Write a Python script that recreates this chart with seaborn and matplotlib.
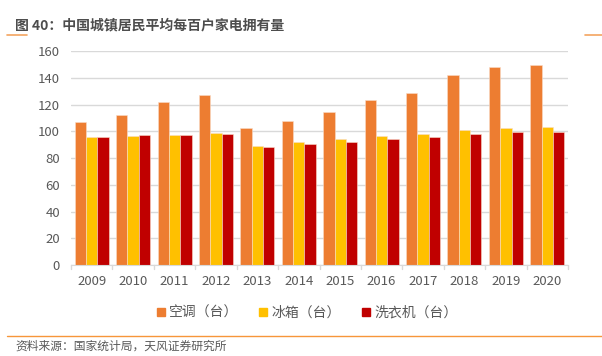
import pandas as pd
import matplotlib
matplotlib.use("Agg")
import matplotlib.pyplot as plt
import seaborn as sns
from matplotlib.lines import Line2D

years = ["2009", "2010", "2011", "2012", "2013", "2014", "2015", "2016", "2017", "2018", "2019", "2020"]
ac = [106.8, 112.1, 122.0, 126.8, 102.2, 107.4, 114.6, 123.7, 128.6, 142.2, 148.3, 149.6]
fridge = [95.4, 96.6, 97.2, 98.5, 89.2, 91.7, 94.0, 96.4, 98.0, 100.9, 102.5, 103.1]
washer = [96.0, 96.9, 97.1, 98.0, 88.4, 90.7, 92.3, 94.2, 95.7, 97.7, 99.2, 99.7]
series = ["空调（台）", "冰箱（台）", "洗衣机（台）"]
colors = ["#ED7D31", "#FFC000", "#C00000"]

df = pd.DataFrame({
    "year": years * 3,
    "value": ac + fridge + washer,
    "item": [series[0]] * 12 + [series[1]] * 12 + [series[2]] * 12,
})

sns.set_style("white")
plt.rcParams["font.family"] = ["Noto Sans CJK SC", "DejaVu Sans"]

fig = plt.figure(figsize=(6.02, 3.56), dpi=100)
ax = fig.add_axes([0.118, 0.2556, 0.8255, 0.601])

sns.barplot(data=df, x="year", y="value", hue="item", palette=colors, saturation=1,
            width=0.82, edgecolor="#F9DCC8", linewidth=0.4, ax=ax, legend=False)

ax.set_ylim(0, 160)
ax.set_yticks(range(0, 161, 20))
ax.set_xlim(-0.5, 11.5)
ax.yaxis.grid(True, color="#D9D9D9", linewidth=1)
ax.set_axisbelow(True)
ax.set_xlabel("")
ax.set_ylabel("")
for s in ["top", "right", "left"]:
    ax.spines[s].set_visible(False)
ax.spines["bottom"].set_color("#D9D9D9")
ax.tick_params(axis="y", length=0, labelsize=9.5, labelcolor="#595959", pad=8)
ax.tick_params(axis="x", length=0, labelsize=9.5, labelcolor="#595959", pad=7)
# tick marks between categories
for i in range(13):
    ax.plot([i - 0.5, i - 0.5], [0, -3], color="#D9D9D9", lw=1, clip_on=False)
ax.set_ylim(0, 160)

handles = [Line2D([], [], marker="s", linestyle="", markersize=6,
                  markerfacecolor=c, markeredgecolor=c) for c in colors]
fig.legend(handles, series, loc="center", bbox_to_anchor=(0.508, 1 - 313 / 356),
           ncol=3, frameon=False, fontsize=10, handletextpad=0.1,
           handlelength=1.0, columnspacing=1.3, labelcolor="#595959")

fig.text(0.025, 1 - 25 / 356, "图 40：中国城镇居民平均每百户家电拥有量", fontsize=10,
         color="#4D4D4D", fontweight="bold", va="center", ha="left")
fig.add_artist(Line2D([7 / 602, 27 / 602], [1 - 35 / 356] * 2, color="#F4A460", lw=1.2))
fig.add_artist(Line2D([585 / 602, 602 / 602], [1 - 35 / 356] * 2, color="#F4A460", lw=1.2))
fig.add_artist(Line2D([7 / 602, 602 / 602], [1 - 336 / 356] * 2, color="#F7963A", lw=1))
fig.text(0.025, 1 - 346 / 356, "资料来源：国家统计局，天风证券研究所", fontsize=8.5,
         color="#595959", va="center", ha="left")

fig.savefig("out.png", dpi=100, facecolor="white")
